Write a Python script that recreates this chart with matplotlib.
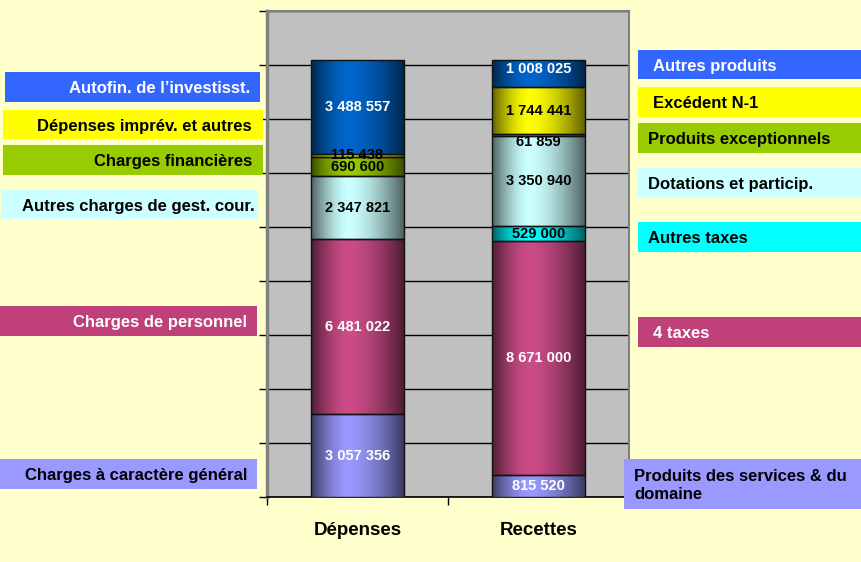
import numpy as np
import matplotlib
matplotlib.use("Agg")
import matplotlib.pyplot as plt
from matplotlib.patches import Rectangle
from matplotlib.colors import to_rgb

plt.rcParams['font.family'] = ['Liberation Sans', 'DejaVu Sans']

# ---------------- data ----------------
categories = ["Dépenses", "Recettes"]

dep_labels = ["Charges à caractère général", "Charges de personnel",
              "Autres charges de gest. cour.", "Charges financières",
              "Dépenses imprév. et autres", "Autofin. de l’investisst."]
dep_values = [3057356, 6481022, 2347821, 690600, 115438, 3488557]

rec_labels = ["Produits des services & du\ndomaine", "4 taxes", "Autres taxes",
              "Dotations et particip.", "Produits exceptionnels",
              "Excédent N-1", "Autres produits"]
rec_values = [815520, 8671000, 529000, 3350940, 61859, 1744441, 1008025]

# ---------------- styles ----------------
dep_bar_colors = ['#9999FF', '#CC4C88', '#CCFFFF', '#99CC00', '#FFFF00', '#0066CC']
rec_bar_colors = ['#9999FF', '#CC4C88', '#00FFFF', '#CCFFFF', '#99CC00', '#FFFF00', '#0066CC']
dep_box_colors = ['#9999FF', '#C0407A', '#CCFFFF', '#99CC00', '#FFFF00', '#3366FF']
rec_box_colors = ['#9999FF', '#C0407A', '#00FFFF', '#CCFFFF', '#99CC00', '#FFFF00', '#3366FF']
dep_text_colors = ['black', 'white', 'black', 'black', 'black', 'white']
rec_text_colors = ['black', 'white', 'black', 'black', 'black', 'black', 'white']
dep_val_colors = ['white', 'white', 'black', 'black', 'black', 'white']
rec_val_colors = ['white', 'white', 'black', 'black', 'black', 'black', 'white']

W, H = 862, 562
fig = plt.figure(figsize=(W / 100, H / 100), dpi=100, facecolor='#FFFFCC')
ax = fig.add_axes([267 / W, (H - 497) / H, (629 - 267) / W, (497 - 10.7) / H])
ax.set_facecolor('#C0C0C0')


def grad_image(color, n=200):
    base = np.array(to_rgb(color))
    t = np.linspace(0, 1, n)
    peak = 0.4
    d = np.where(t < peak, (peak - t) / peak, (t - peak) / (1 - peak))
    m = 1 - 0.62 * d ** 1.6
    img = np.clip(base[None, :] * m[:, None], 0, 1)
    return img[None, :, :]


width = 0.51
label_offsets = {61859: -250000, 1008025: 180000, 115438: 40000}

for xi, (vals, bcols, vcols) in enumerate([(dep_values, dep_bar_colors, dep_val_colors),
                                          (rec_values, rec_bar_colors, rec_val_colors)]):
    bottom = 0
    for v, c, tc in zip(vals, bcols, vcols):
        bar = ax.bar(xi, v, width=width, bottom=bottom, color=c,
                     edgecolor='#111111', linewidth=1.0, zorder=3)[0]
        x0 = bar.get_x()
        im = ax.imshow(grad_image(c), extent=[x0, x0 + width, bottom, bottom + v],
                       aspect='auto', zorder=2.9, interpolation='bilinear')
        im.set_clip_path(bar)
        bar.set_facecolor('none')
        ymid = bottom + v / 2 + label_offsets.get(v, 0)
        txt = f"{v:,}".replace(",", " ")
        ax.text(xi, ymid, txt, ha='center', va='center', fontsize=10.5,
                fontweight='bold', color=tc, zorder=5)
        bottom += v

ax.set_xlim(-0.5, 1.5)
ax.set_ylim(0, 18000000)
ax.set_yticks(np.arange(0, 18000001, 2000000))
ax.set_yticklabels([])
ax.yaxis.grid(True, color='black', linewidth=1.0, zorder=1)
ax.set_axisbelow(True)
ax.set_xticks([0, 1])
ax.set_xticklabels(categories, fontsize=13.5, fontweight='bold')
ax.set_xticks([-0.5, 0.5], minor=True)
ax.tick_params(axis='x', which='major', length=0, pad=18)
ax.tick_params(axis='x', which='minor', length=6, width=1, color='black')
ax.tick_params(axis='y', which='major', length=6, width=1, color='black', direction='out')

for s in ['top', 'right']:
    ax.spines[s].set_color('#808080')
    ax.spines[s].set_linewidth(1.5)
ax.spines['left'].set_color('#808080')
ax.spines['left'].set_linewidth(2.5)
ax.spines['bottom'].set_color('black')
ax.spines['bottom'].set_linewidth(1.2)


def box(x0, y0, x1, y1, color, text, tcolor, align, tx):
    fig.patches.append(Rectangle((x0 / W, 1 - y1 / H), (x1 - x0) / W, (y1 - y0) / H,
                                 transform=fig.transFigure, facecolor=color,
                                 edgecolor='none', zorder=1))
    fig.text(tx / W, 1 - ((y0 + y1) / 2 + 1.5) / H, text, ha=align, va='center',
             fontsize=12, fontweight='bold', color=tcolor, zorder=2,
             linespacing=1.2)


# left boxes (bottom-to-top order as in data)
left_geom = [(0, 459, 257, 489, 247), (0, 306, 257, 336, 247),
             (1, 190, 258, 219, 255), (3, 145, 263, 175, 252),
             (3, 110, 263, 139, 252), (5, 72, 260, 102, 250)]
for (x0, y0, x1, y1, tx), lab, c, tc in zip(left_geom, dep_labels, dep_box_colors, dep_text_colors):
    box(x0, y0, x1, y1, c, lab, tc, 'right', tx)

right_geom = [(624, 459, 862, 509, 634), (638, 317, 862, 347, 653),
              (638, 222, 862, 252, 648), (638, 168, 862, 197, 648),
              (638, 123, 862, 153, 648), (638, 87, 862, 117, 653),
              (638, 50, 862, 79, 653)]
for (x0, y0, x1, y1, tx), lab, c, tc in zip(right_geom, rec_labels, rec_box_colors, rec_text_colors):
    box(x0, y0, x1, y1, c, lab, tc, 'left', tx)

fig.savefig('out.png', dpi=100, facecolor=fig.get_facecolor())
